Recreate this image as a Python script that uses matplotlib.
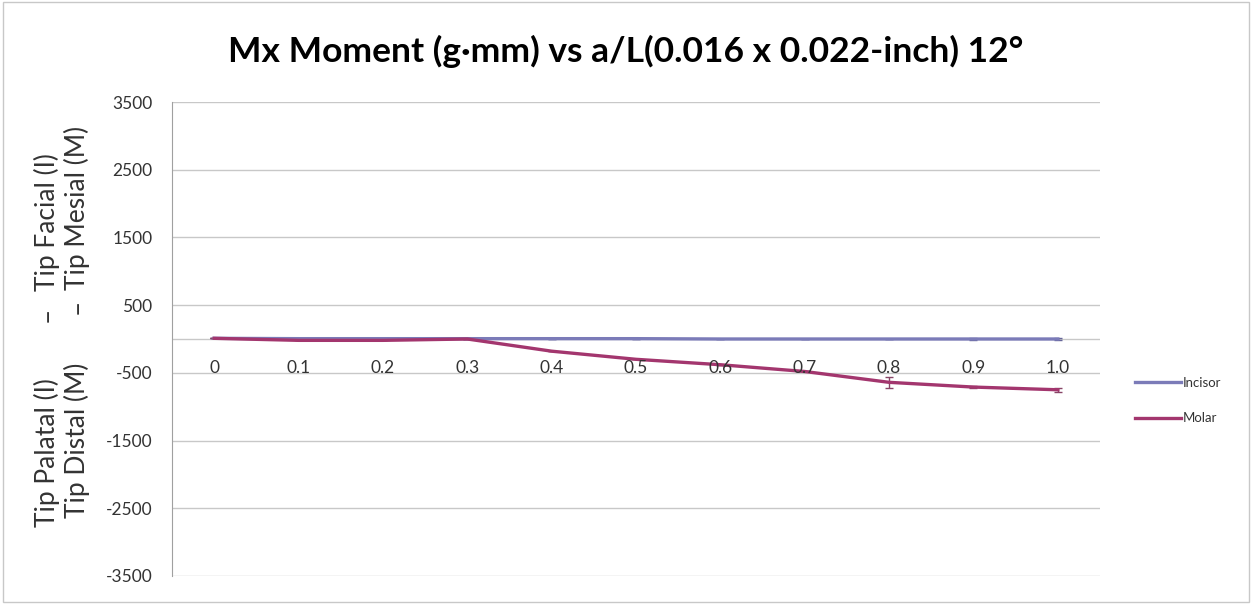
import matplotlib.pyplot as plt
from matplotlib.patches import Rectangle
from matplotlib.lines import Line2D

# values
al = [0, 0.1, 0.2, 0.3, 0.4, 0.5, 0.6, 0.7, 0.8, 0.9, 1.0]
al_labels = ['0', '0.1', '0.2', '0.3', '0.4', '0.5', '0.6', '0.7', '0.8', '0.9', '1.0']
incisor = [10, 5, 5, 5, 5, 5, 0, 0, 0, 0, 0]
incisor_err = [0, 0, 0, 0, 0, 0, 0, 0, 0, 20, 20]
molar = [10, -20, -20, 0, -180, -300, -380, -480, -640, -710, -750]
molar_err = [0, 0, 0, 0, 0, 0, 0, 0, 80, 20, 30]
yticks = [3500, 2500, 1500, 500, -500, -1500, -2500, -3500]

plt.rcParams['font.family'] = ['Lato', 'DejaVu Sans']

fig = plt.figure(figsize=(12.52, 6.04), dpi=100)
fig.patches.append(Rectangle((0.002, 0.003), 0.996, 0.994, transform=fig.transFigure,
                             fill=False, edgecolor='#c8c8c8', linewidth=1))
ax = fig.add_axes([0.1374, 0.0464, 0.7412, 0.7847])

inc_col = '#7b7bb8'
mol_col = '#a3366e'
ax.errorbar(al, incisor, yerr=incisor_err, color=inc_col, lw=2.4,
            ecolor='#666699', elinewidth=1, capsize=3)
ax.errorbar(al, molar, yerr=molar_err, color=mol_col, lw=2.4,
            ecolor='#884466', elinewidth=1, capsize=3)

ax.set_xlim(-0.05, 1.05)
ax.set_ylim(-3500, 3500)
ax.set_yticks(yticks)
ax.set_yticklabels([str(v) for v in yticks], fontsize=12.5, color='#333333')
ax.tick_params(axis='y', length=0, pad=14)
ax.set_xticks([])
for v in yticks + [0]:
    ax.axhline(v, color='#c8c8c8', lw=1, zorder=0)
for s in ['top', 'right', 'bottom']:
    ax.spines[s].set_visible(False)
ax.spines['left'].set_color('#a0a0a0')

# category labels sit just below the zero line
for x, lab in zip(al, al_labels):
    ax.annotate(lab, (x, 0), xytext=(0, -21), textcoords='offset points',
                ha='center', va='center', fontsize=12.5, color='#333333')

fig.text(0.5, 0.915, 'Mx Moment (g\u00b7mm) vs a/L(0.016 x 0.022-inch) 12\u00b0',
         ha='center', va='center', fontsize=25.5, fontweight='bold')

# two-line y label, pieces placed in pixels from the top
ylab_parts = [
    (47, 453, 'Tip Palatal (I)'), (47, 314, '\u2013'), (47, 222, 'Tip Facial (I)'),
    (77, 440, 'Tip Distal (M)'), (77, 306, '\u2013'), (77, 208, 'Tip Mesial (M)'),
]
for px, py, s in ylab_parts:
    fig.text(px / 1252, 1 - py / 604, s, rotation=90, ha='center', va='center',
             fontsize=19, color='#333333')

handles = [Line2D([], [], color=inc_col, lw=2.4), Line2D([], [], color=mol_col, lw=2.4)]
leg = ax.legend(handles, ['Incisor', 'Molar'], loc='center left', bbox_to_anchor=(1.025, 0.37),
                frameon=False, fontsize=9.5, handlelength=3.5, handletextpad=0.1,
                labelspacing=1.8)
for t in leg.get_texts():
    t.set_color('#333333')

fig.savefig('out.png', dpi=100)
